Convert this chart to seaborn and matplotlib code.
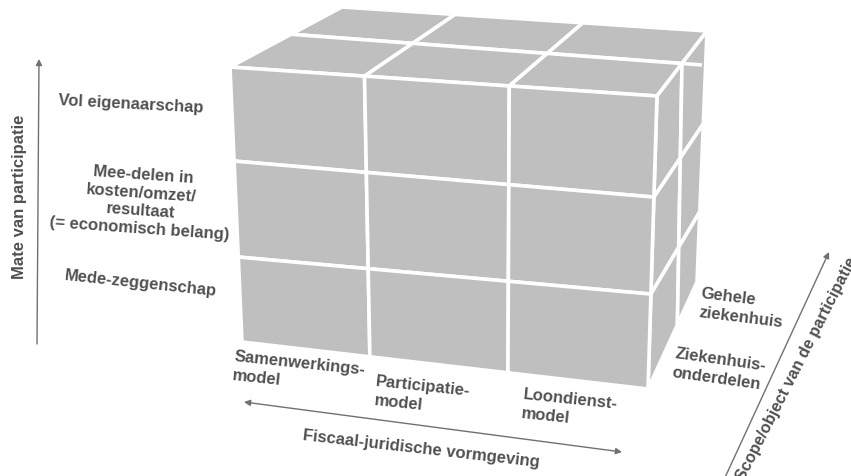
import numpy as np
import pandas as pd
import seaborn as sns
import matplotlib
matplotlib.use("Agg")
import matplotlib.pyplot as plt
from matplotlib.patches import Polygon

# ---------------- data (categories of the three dimensions) ----------------
levels = ["Vol eigenaarschap",
          "Mee-delen in\nkosten/omzet/\nresultaat\n(= economisch belang)",
          "Mede-zeggenschap"]
models = ["Samenwerkings-\nmodel", "Participatie-\nmodel", "Loondienst-\nmodel"]
scopes = ["Gehele\nziekenhuis", "Ziekenhuis-\nonderdelen"]
axis_y_title = "Mate van participatie"
axis_x_title = "Fiscaal-juridische vormgeving"
axis_z_title = "Scope/object van de participatie"

# ---------------- style / layout ----------------
sns.set_theme(style="white")
plt.rcParams["font.family"] = ["Liberation Sans", "DejaVu Sans"]
CUBE = "#bfbfbf"
TXT = "#505050"
ARR = "#707070"
LW = 2.6

fig = plt.figure(figsize=(8.51, 4.77), dpi=100)
ax = fig.add_axes([0, 0, 1, 1])
ax.set_xlim(0, 851)
ax.set_ylim(477, 0)
ax.axis("off")

# face quads (TL, TR, BR, BL) in pixel space + per-edge split fractions
faces = {
    "front": dict(q=[(230, 68), (657, 97), (648, 390), (242, 343)],
                  ut=[0, .315, .654, 1], ub=[0, .315, .655, 1],
                  vl=[0, .342, .691, 1], vr=[0, .345, .676, 1]),
    "top": dict(q=[(342, 8), (707, 32), (657, 97), (230, 68)],
                ut=[0, .31, .66, 1], ub=[0, .315, .654, 1],
                vl=[0, .455, 1], vr=[0, .5, 1]),
    "right": dict(q=[(657, 97), (707, 32), (697, 283), (648, 390)],
                  ut=[0, .5, 1], ub=[0, .6, 1],
                  vl=[0, .345, .676, 1], vr=[0, .37, .72, 1]),
}


def lerp(a, b, t):
    return (a[0] + (b[0] - a[0]) * t, a[1] + (b[1] - a[1]) * t)


def intersect(p1, p2, p3, p4):
    x1, y1 = p1; x2, y2 = p2; x3, y3 = p3; x4, y4 = p4
    d = (x1 - x2) * (y3 - y4) - (y1 - y2) * (x3 - x4)
    t = ((x1 - x3) * (y3 - y4) - (y1 - y3) * (x3 - x4)) / d
    return (x1 + t * (x2 - x1), y1 + t * (y2 - y1))


def grid_point(f, i, j):
    TL, TR, BR, BL = f["q"]
    a = lerp(TL, TR, f["ut"][j]); b = lerp(BL, BR, f["ub"][j])
    c = lerp(TL, BL, f["vl"][i]); d = lerp(TR, BR, f["vr"][i])
    return intersect(a, b, c, d)


def draw_cells(f, nrows, ncols):
    for i in range(nrows):
        for j in range(ncols):
            pts = [grid_point(f, i, j), grid_point(f, i, j + 1),
                   grid_point(f, i + 1, j + 1), grid_point(f, i + 1, j)]
            ax.add_patch(Polygon(pts, closed=True, facecolor=CUBE,
                                 edgecolor="white", linewidth=LW,
                                 joinstyle="miter", zorder=2))


draw_cells(faces["top"], len(scopes), len(models))
draw_cells(faces["right"], len(levels), len(scopes))
draw_cells(faces["front"], len(levels), len(models))

# overshoot of the top face depth divider across the right face
ft = faces["top"]
p0 = grid_point(ft, 1, 0); p1 = grid_point(ft, 1, len(models))
dv = np.array(p1) - np.array(p0); dv = dv / np.hypot(*dv)
ax.plot([p1[0], p1[0] + dv[0] * 20], [p1[1], p1[1] + dv[1] * 20],
        color="white", lw=LW, solid_capstyle="butt", zorder=3)

# ---------------- axes arrows ----------------
ap = dict(arrowstyle="-|>", color=ARR, lw=1.0, mutation_scale=9,
          shrinkA=0, shrinkB=0)
ax.annotate("", xy=(39, 60), xytext=(37, 345), arrowprops=ap, zorder=4)
ax.annotate("", xy=(829, 253), xytext=(722, 485), arrowprops=ap, zorder=4)
ap2 = dict(arrowstyle="<|-|>", color=ARR, lw=1.0, mutation_scale=9,
           shrinkA=0, shrinkB=0)
ax.annotate("", xy=(622, 453), xytext=(244, 403), arrowprops=ap2, zorder=4)

# ---------------- text ----------------
fs = 12
tk = dict(color=TXT, fontweight="bold", rotation_mode="anchor", zorder=5)

ax.text(20, 197, axis_y_title, rotation=90, ha="center", va="center",
        fontsize=fs, **tk)
ax.text(302, 440, axis_x_title, rotation=-6.5, ha="left", va="baseline",
        fontsize=fs, **tk)
ax.text(744, 482, axis_z_title, rotation=63, ha="left", va="baseline",
        fontsize=fs - 0.3, **tk)

# level labels (left)
ax.text(58, 105, levels[0], rotation=-3, ha="left", va="baseline",
        fontsize=fs, **tk)
ax.text(141, 202, levels[1], rotation=-4, ha="center", va="center",
        multialignment="center", linespacing=1.25, fontsize=fs, **tk)
ax.text(64, 280, levels[2], rotation=-6, ha="left", va="baseline",
        fontsize=fs, **tk)

# model labels (bottom) - anchored at baseline of last line
model_pos = [(232, 376), (374, 401), (521, 414)]
for lab, (x, y) in zip(models, model_pos):
    ax.text(x, y, lab, rotation=-6, ha="left", va="baseline",
            multialignment="left", linespacing=1.3, fontsize=fs, **tk)

# scope labels (right) - anchored at baseline of last line
scope_pos = [(699, 313), (672, 373)]
scope_rot = [-7, -8]
for lab, (x, y), r in zip(scopes, scope_pos, scope_rot):
    ax.text(x, y, lab, rotation=r, ha="left", va="baseline",
            multialignment="left", linespacing=1.3, fontsize=fs, **tk)

fig.savefig("out.png", dpi=100, facecolor="white")
